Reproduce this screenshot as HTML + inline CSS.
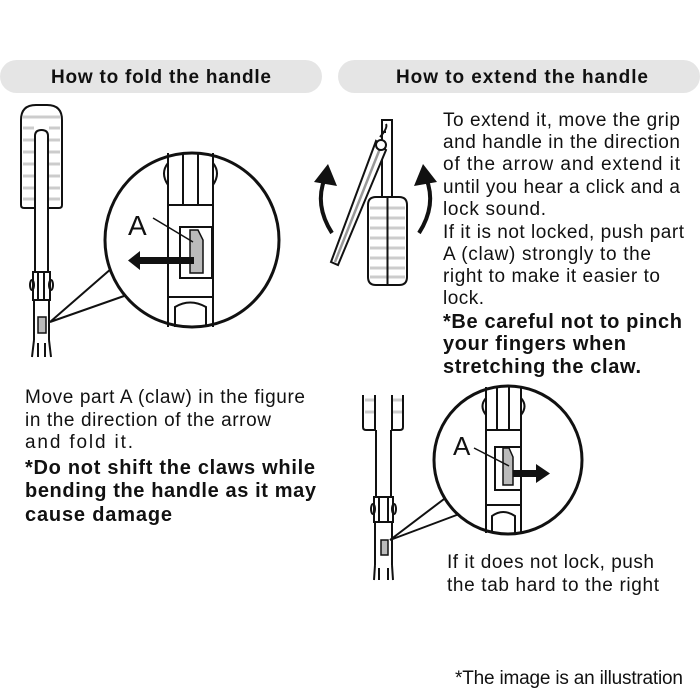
<!DOCTYPE html>
<html><head><meta charset="utf-8"><style>
body{margin:0;background:#fff}
svg{display:block}
text{font-family:"Liberation Sans",sans-serif;fill:#111}
.r{font-size:19px}
.b{font-size:20px;font-weight:bold}
</style></head><body>
<svg width="700" height="700" viewBox="0 0 700 700" xmlns="http://www.w3.org/2000/svg">
<rect x="0" y="60" width="322" height="33" rx="16.5" fill="#e5e5e5"/>
<rect x="338" y="60" width="362" height="33" rx="16.5" fill="#e5e5e5"/>
<text x="51" y="83" textLength="220" style="font-size:19px;font-weight:bold">How to fold the handle</text>
<text x="396" y="83" textLength="252" style="font-size:19px;font-weight:bold">How to extend the handle</text>

<g fill="none" stroke="#111" stroke-width="2">
<path d="M21 205 V120 Q21 105 36 105 H47 Q62 105 62 120 V205 Q62 208 59 208 H48 V136 Q48 130 41.5 130 Q35 130 35 136 V208 H24 Q21 208 21 205Z" fill="#fff"/>
<g stroke="#ccc" stroke-width="3"><path d="M23 117H60M23 128H34M49 128H60M23 140H34M49 140H60M23 152H34M49 152H60M23 164H34M49 164H60M23 176H34M49 176H60M23 188H34M49 188H60M23 199H34M49 199H60"/></g>
<path d="M35 208V272M48 208V272"/>
<path d="M33 272H50V300H33Z M38 272V300M44 272V300"/>
<ellipse cx="32" cy="285" rx="2" ry="5"/><ellipse cx="51" cy="285" rx="2" ry="5"/>
<path d="M34 300V340M49 300V340M34 340L32 357M49 340L51 357M38 343V357M45 343V357"/>
<rect x="38" y="317" width="8" height="16" fill="#bbb" stroke-width="1.5"/>
<path d="M112 268 L50 322 L124 296" fill="#fff"/>
<circle cx="192" cy="240" r="87" fill="#fff" stroke-width="3"/>
<path d="M168 153V327M213 153V327M183 153V205M198 153V205M168 205H213M168 297H213"/>
<path d="M175 327V307Q190 298 206 307V327"/>
<path d="M168 163Q160 173 168 185M213 163Q221 173 213 185"/>
<rect x="180" y="227" width="32" height="51" fill="#fff"/>
<path d="M190 230H198L203 240V273H190Z" fill="#bbb" stroke-width="1.5"/>
<path d="M153 218L193 242" stroke-width="1.5"/>
</g>
<path d="M194 257H140V251L128 260.5L140 270V264H194Z" fill="#111"/>
<text x="128" y="235" style="font-size:28px">A</text>

<g fill="none" stroke="#111" stroke-width="2">
<path d="M382 200V120H392V200M382 120V132H386"/>
<path d="M380 137Q388 128 386 124"/>
<path d="M376 141 L331 262 L338 265 L386 150Z" fill="#fff"/>
<path d="M335 262L381 146" stroke="#999" stroke-width="2.5"/>
<circle cx="381" cy="145" r="5" fill="#fff"/>
<path d="M368 205Q368 197 376 197H399Q407 197 407 205V277Q407 285 399 285H376Q368 285 368 277Z" fill="#fff"/>
<g stroke="#ccc" stroke-width="3"><path d="M370 208H405M370 218H405M370 228H405M370 238H405M370 248H405M370 258H405M370 268H405M370 277H405"/></g>
<path d="M387.5 197V285"/>
</g>
<path d="M332 233Q314 205 325 178" fill="none" stroke="#111" stroke-width="4"/>
<path d="M314 182L328 164L337 186Z" fill="#111"/>
<path d="M419 233Q437 205 426 178" fill="none" stroke="#111" stroke-width="4"/>
<path d="M437 182L423 164L414 186Z" fill="#111"/>

<g class="r">
<text x="443" y="126" textLength="237">To extend it, move the grip</text>
<text x="443" y="148" textLength="237">and handle in the direction</text>
<text x="443" y="170" textLength="237">of the arrow and extend it</text>
<text x="443" y="193" textLength="237">until you hear a click and a</text>
<text x="443" y="215" textLength="103">lock sound.</text>
<text x="443" y="238" textLength="241">If it is not locked, push part</text>
<text x="443" y="260" textLength="208">A (claw) strongly to the</text>
<text x="443" y="282" textLength="217">right to make it easier to</text>
<text x="443" y="304" textLength="41">lock.</text>
</g>
<g class="b">
<text x="443" y="328" textLength="239">*Be careful not to pinch</text>
<text x="443" y="350" textLength="183">your fingers when</text>
<text x="443" y="373" textLength="198">stretching the claw.</text>
</g>

<g class="r">
<text x="25" y="403" textLength="280">Move part A (claw) in the figure</text>
<text x="25" y="426" textLength="246">in the direction of the arrow</text>
<text x="25" y="448" textLength="108">and fold it.</text>
</g>
<g class="b">
<text x="25" y="474" textLength="290">*Do not shift the claws while</text>
<text x="25" y="497" textLength="291">bending the handle as it may</text>
<text x="25" y="521" textLength="147">cause damage</text>
</g>

<g fill="none" stroke="#111" stroke-width="2">
<path d="M363 395V427Q363 430 366 430H375V395M392 395V430H400Q403 430 403 427V395"/>
<g stroke="#ccc" stroke-width="3"><path d="M365 400H374M393 400H402M365 412H374M393 412H402"/></g>
<path d="M376 430V497M391 430V497M374 497H393V522H374ZM379 497V522M388 497V522"/>
<ellipse cx="373" cy="509" rx="2" ry="5"/><ellipse cx="394" cy="509" rx="2" ry="5"/>
<path d="M375 522V565M392 522V565M375 565L374 580M392 565L393 580M379 568V580M388 568V580"/>
<rect x="381" y="540" width="7" height="15" fill="#bbb" stroke-width="1.5"/>
<path d="M448 496 L390 540 L462 513" fill="#fff"/>
<circle cx="508" cy="460" r="74" fill="#fff" stroke-width="3"/>
<path d="M486 387V533M521 387V533M497 387V430M509 387V430M486 430H521M486 505H521"/>
<path d="M492 533V516Q503 508 515 516V533"/>
<path d="M486 398Q479 406 486 415M521 398Q528 406 521 415"/>
<rect x="495" y="447" width="26" height="43" fill="#fff"/>
<path d="M503 448H509L513 457V485H503Z" fill="#bbb" stroke-width="1.5"/>
<path d="M474 448L509 466" stroke-width="1.5"/>
</g>
<path d="M513 470H536V464L550 473.5L536 483V477H513Z" fill="#111"/>
<text x="453" y="455" style="font-size:26px">A</text>

<g class="r">
<text x="447" y="568" textLength="207">If it does not lock, push</text>
<text x="447" y="591" textLength="212">the tab hard to the right</text>
<text x="455" y="684" textLength="228">*The image is an illustration</text>
</g>
</svg>
</body></html>
